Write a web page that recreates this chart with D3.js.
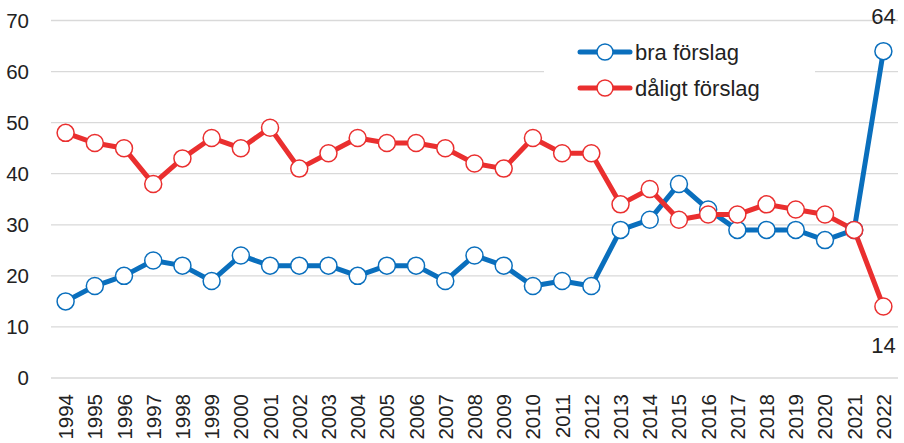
<!DOCTYPE html>
<html lang="sv">
<head>
  <meta charset="UTF-8">
  <script src="https://d3js.org/d3.v7.min.js"></script>
  <title>bra / dåligt förslag</title>
  <style>
    body { margin: 0; background: #fff; }
    svg { display: block; }
    svg text { font-family: 'Liberation Sans', Arial, sans-serif; fill: #222; }
  </style>
</head>
<body>
  <svg width="904" height="443"></svg>
  <script>
    // data
    const years = d3.range(1994, 2023).map(String);
    const bra = [15, 18, 20, 23, 22, 19, 24, 22, 22, 22, 20, 22, 22, 19, 24, 22, 18, 19, 18, 29, 31, 38, 33, 29, 29, 29, 27, 29, 64];
    const daligt = [48, 46, 45, 38, 43, 47, 45, 49, 41, 44, 47, 46, 46, 45, 42, 41, 47, 44, 44, 34, 37, 31, 32, 32, 34, 33, 32, 29, 14];
    const yTicks = [0, 10, 20, 30, 40, 50, 60, 70];
    const seriesNames = ["bra förslag", "dåligt förslag"];
    const seriesColors = ["#0a6fbd", "#ea2f2f"];

    const svg = d3.select("svg");
    const plotLeft = 51, plotRight = 898, plotTop = 20.5, plotBottom = 378;

    const x = d3.scalePoint().domain(years).range([plotLeft, plotRight]).padding(0.5);
    const y = d3.scaleLinear().domain([0, 70]).range([plotBottom, plotTop]);

    // gridlines
    svg.append("g")
      .selectAll("line")
      .data(yTicks)
      .enter()
      .append("line")
      .attr("x1", plotLeft).attr("x2", plotRight)
      .attr("y1", d => y(d)).attr("y2", d => y(d))
      .attr("stroke", "#d9d9d9")
      .attr("stroke-width", 1.3);

    // y labels
    svg.append("g")
      .selectAll("text")
      .data(yTicks)
      .enter()
      .append("text")
      .attr("x", 29)
      .attr("y", d => y(d))
      .attr("dy", "0.36em")
      .attr("text-anchor", "end")
      .attr("font-size", 20.5)
      .text(d => d);

    // x labels, rotated
    svg.append("g")
      .selectAll("text")
      .data(years)
      .enter()
      .append("text")
      .attr("transform", d => `translate(${x(d) + 7.5},394) rotate(-90)`)
      .attr("text-anchor", "end")
      .attr("font-size", 20.5)
      .text(d => d);

    // legend box hides part of the 60 gridline
    svg.append("rect")
      .attr("x", 544).attr("y", 32).attr("width", 271).attr("height", 76)
      .attr("fill", "#fff");

    const line = d3.line().x((d, i) => x(years[i])).y(d => y(d));
    const all = [bra, daligt];

    all.forEach((vals, k) => {
      svg.append("path")
        .datum(vals)
        .attr("d", line)
        .attr("fill", "none")
        .attr("stroke", seriesColors[k])
        .attr("stroke-width", 5)
        .attr("stroke-linejoin", "round");
    });
    all.forEach((vals, k) => {
      svg.append("g")
        .selectAll("circle")
        .data(vals)
        .enter()
        .append("circle")
        .attr("cx", (d, i) => x(years[i]))
        .attr("cy", d => y(d))
        .attr("r", 8.5)
        .attr("fill", "#fff")
        .attr("stroke", seriesColors[k])
        .attr("stroke-width", 1.5);
    });

    // end labels
    const last = years.length - 1;
    svg.append("text")
      .attr("x", x(years[last]))
      .attr("y", y(bra[last]) - 27)
      .attr("text-anchor", "middle")
      .attr("font-size", 22)
      .text(bra[last]);
    svg.append("text")
      .attr("x", x(years[last]))
      .attr("y", y(daligt[last]) + 46)
      .attr("text-anchor", "middle")
      .attr("font-size", 22)
      .text(daligt[last]);

    // legend
    seriesNames.forEach((name, k) => {
      const ly = 52 + k * 36;
      const g = svg.append("g");
      g.append("line")
        .attr("x1", 580).attr("x2", 630)
        .attr("y1", ly).attr("y2", ly)
        .attr("stroke", seriesColors[k])
        .attr("stroke-width", 5)
        .attr("stroke-linecap", "round");
      g.append("circle")
        .attr("cx", 605).attr("cy", ly).attr("r", 8)
        .attr("fill", "#fff")
        .attr("stroke", seriesColors[k])
        .attr("stroke-width", 1.5);
      g.append("text")
        .attr("x", 635).attr("y", ly)
        .attr("dy", "0.36em")
        .attr("font-size", 22)
        .text(name);
    });
  </script>
</body>
</html>
